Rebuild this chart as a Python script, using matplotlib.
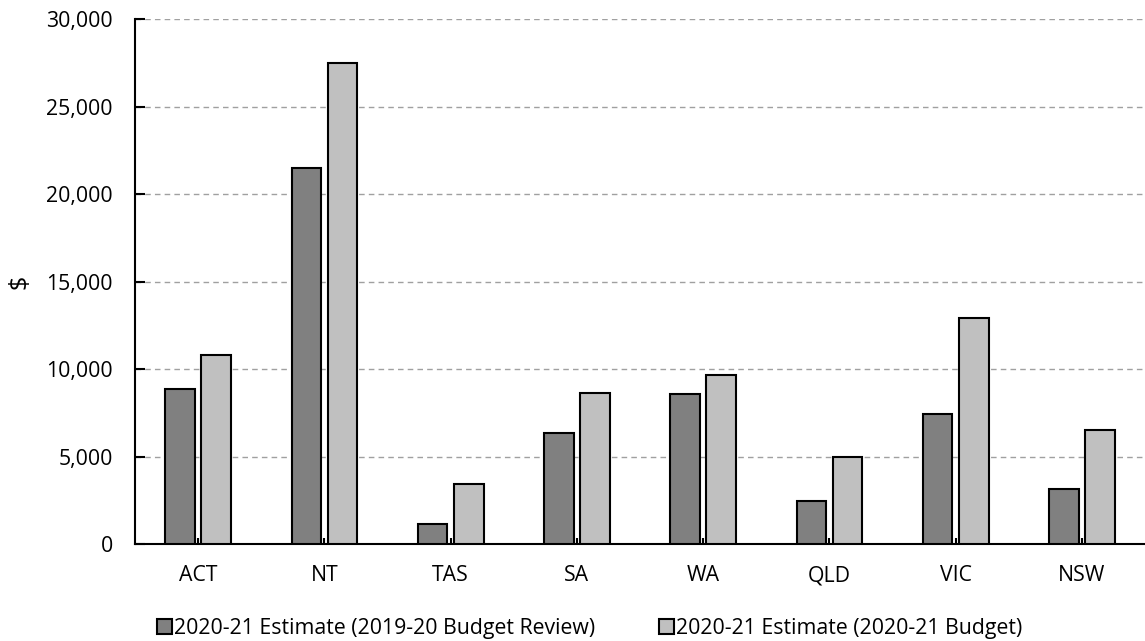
import numpy as np
import matplotlib.pyplot as plt

states = ["ACT", "NT", "TAS", "SA", "WA", "QLD", "VIC", "NSW"]
budget_review = [8850, 21500, 1130, 6350, 8600, 2460, 7450, 3130]
budget_2021 = [10800, 27500, 3450, 8650, 9650, 4970, 12950, 6550]
labels = ["2020-21 Estimate (2019-20 Budget Review)", "2020-21 Estimate (2020-21 Budget)"]

plt.rcParams['font.family'] = ['Open Sans', 'DejaVu Sans']
plt.rcParams['font.size'] = 15.3

fig = plt.figure(figsize=(11.45, 6.41), dpi=100)
ax = fig.add_axes([0.118, 0.151, 0.882, 0.819])

x = np.arange(len(states))
w = 0.235
off = 0.143
ax.bar(x - off, budget_review, w, color="#808080", edgecolor="black", linewidth=1.5, label=labels[0], zorder=3)
ax.bar(x + off, budget_2021, w, color="#c0c0c0", edgecolor="black", linewidth=1.5, label=labels[1], zorder=3)

ax.set_xlim(-0.5, len(states) - 0.5)
ax.set_ylim(0, 30000)
ax.set_yticks(np.arange(0, 30001, 5000))
ax.set_yticklabels([f"{v:,}" for v in range(0, 30001, 5000)])
ax.set_xticks(x)
ax.set_xticklabels(states)
ax.yaxis.grid(True, linestyle=(0, (4, 3)), color="#a0a0a0", linewidth=1, zorder=0)
ax.tick_params(axis="y", direction="in", length=7, width=1.5, pad=16)
ax.tick_params(axis="x", direction="in", length=4, width=1.5, pad=15)
ax.spines["top"].set_visible(False)
ax.spines["right"].set_visible(False)
ax.spines["left"].set_linewidth(1.5)
ax.spines["bottom"].set_linewidth(1.5)
ax.set_ylabel("$", labelpad=10, fontsize=18)

fig.legend(loc="center", bbox_to_anchor=(0.515, 0.02), ncol=2, frameon=False,
           handlelength=0.7, handleheight=0.7, handletextpad=0.1, columnspacing=3.0,
           borderpad=0, fontsize=15.3)

fig.savefig("out.png", dpi=100)
